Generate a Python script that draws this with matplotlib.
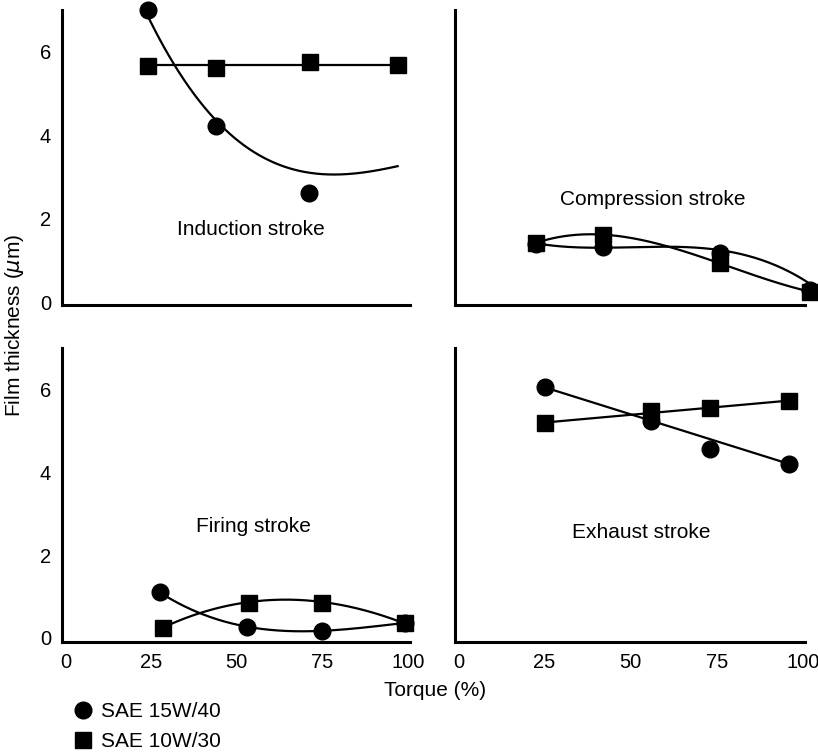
import matplotlib
matplotlib.use("Agg")
import matplotlib.pyplot as plt
import numpy as np
from matplotlib.lines import Line2D

plt.rcParams['font.family'] = ['Liberation Sans', 'DejaVu Sans']
plt.rcParams['mathtext.fontset'] = 'dejavusans'

# Torque (%) and film thickness (um)
# Induction stroke
ind_c_x = [24, 44, 71]
ind_c_y = [7.0, 4.22, 2.62]
ind_s_x = [24, 44, 71.5, 97]
ind_s_y = [5.65, 5.6, 5.75, 5.68]
# trend-curve traces
ind_c_trace_x = [24.5, 44, 59, 80, 97]
ind_c_trace_y = [6.8, 4.25, 3.55, 2.98, 3.28]
ind_s_trace_x = ind_s_x
ind_s_trace_y = [5.67, 5.67, 5.67, 5.67]

# Compression stroke
com_c_x = [22.6, 42, 76, 102]
com_c_y = [1.4, 1.33, 1.17, 0.3]
com_s_x = [22.6, 42, 76, 102]
com_s_y = [1.42, 1.6, 0.93, 0.25]
com_c_trace_x = [22.6, 42, 62, 76, 86.5, 96, 102]
com_c_trace_y = [1.39, 1.36, 1.29, 1.17, 1.09, 0.85, 0.35]
com_s_trace_x = [22.6, 42, 62.3, 76, 102]
com_s_trace_y = [1.42, 1.62, 1.29, 0.93, 0.25]

# Firing stroke
fir_c_x = [27.5, 53, 75, 99]
fir_c_y = [1.1, 0.27, 0.17, 0.36]
fir_s_x = [28.5, 53.5, 75, 99]
fir_s_y = [0.25, 0.85, 0.85, 0.36]
fir_c_trace_x = fir_c_x
fir_c_trace_y = fir_c_y
fir_s_trace_x = [28.5, 53.5, 65, 75, 99]
fir_s_trace_y = [0.25, 0.85, 0.95, 0.85, 0.35]

# Exhaust stroke
exh_c_x = [25, 56, 73, 96]
exh_c_y = [6.07, 5.23, 4.55, 4.2]
exh_s_x = [25, 56, 73, 96]
exh_s_y = [5.2, 5.48, 5.56, 5.73]
exh_c_trace_x = [25, 96]
exh_c_trace_y = [6.05, 4.2]
exh_s_trace_x = [25, 96]
exh_s_trace_y = [5.2, 5.73]

xticks = [0, 25, 50, 75, 100]
yticks = [0, 2, 4, 6]

W, H = 818, 755
fig = plt.figure(figsize=(W / 100, H / 100), dpi=100)


def box(l, t, r, b):
    return [l / W, 1 - b / H, (r - l) / W, (b - t) / H]


def trend(ax, tx, ty, deg):
    p = np.polyfit(tx, ty, deg)
    xs = np.linspace(min(tx), max(tx), 200)
    ax.plot(xs, np.polyval(p, xs), color='black', lw=1.6, clip_on=False, zorder=2)


panels = [
    (box(62, 10, 410, 305), (-0.07, 7.0), 'Induction stroke', (54, 1.73),
     (ind_c_x, ind_c_y, ind_c_trace_x, ind_c_trace_y, 3),
     (ind_s_x, ind_s_y, ind_s_trace_x, ind_s_trace_y, 1), True, False),
    (box(455, 10, 805, 305), (-0.07, 7.0), 'Compression stroke', (56.5, 2.46),
     (com_c_x, com_c_y, com_c_trace_x, com_c_trace_y, 3),
     (com_s_x, com_s_y, com_s_trace_x, com_s_trace_y, 3), False, False),
    (box(62, 348, 410, 642), (-0.1, 7.0), 'Firing stroke', (55, 2.7),
     (fir_c_x, fir_c_y, fir_c_trace_x, fir_c_trace_y, 3),
     (fir_s_x, fir_s_y, fir_s_trace_x, fir_s_trace_y, 3), True, True),
    (box(455, 348, 805, 642), (-0.1, 7.0), 'Exhaust stroke', (53, 2.55),
     (exh_c_x, exh_c_y, exh_c_trace_x, exh_c_trace_y, 1),
     (exh_s_x, exh_s_y, exh_s_trace_x, exh_s_trace_y, 1), False, True),
]

for rect, ylim, title, tpos, circ, sq, ylab, xlab in panels:
    ax = fig.add_axes(rect)
    ax.set_xlim(-1, 100.6)
    ax.set_ylim(*ylim)
    for s in ['top', 'right']:
        ax.spines[s].set_visible(False)
    for s in ['left', 'bottom']:
        ax.spines[s].set_linewidth(2.2)
    ax.tick_params(length=0, labelsize=14.5, pad=8)
    ax.set_xticks(xticks)
    ax.set_yticks(yticks)
    if not ylab:
        ax.set_yticklabels([])
    if not xlab:
        ax.set_xticklabels([])

    cx, cy, ctx, cty, cdeg = circ
    sx, sy, stx, sty, sdeg = sq
    trend(ax, ctx, cty, cdeg)
    trend(ax, stx, sty, sdeg)
    ax.plot(cx, cy, 'o', color='black', ms=12, clip_on=False, zorder=3)
    ax.plot(sx, sy, 's', color='black', ms=11.5, clip_on=False, zorder=4)
    ax.text(tpos[0], tpos[1], title, ha='center', va='center', fontsize=15)

fig.text(15 / W, 1 - 325 / H, r'Film thickness ($\mu$m)', rotation=90,
         ha='center', va='center', fontsize=15)
fig.text(435 / W, 1 - 690 / H, 'Torque (%)', ha='center', va='center', fontsize=15)

handles = [Line2D([], [], marker='o', ls='none', color='black', ms=12),
           Line2D([], [], marker='s', ls='none', color='black', ms=11)]
fig.legend(handles, ['SAE 15W/40', 'SAE 10W/30'], loc='upper left',
           bbox_to_anchor=(76 / W, 1 - 702 / H), frameon=False, fontsize=15,
           handlelength=0.7, handletextpad=0.5, labelspacing=0.55,
           borderpad=0, borderaxespad=0)

fig.savefig('out.png', dpi=100)
